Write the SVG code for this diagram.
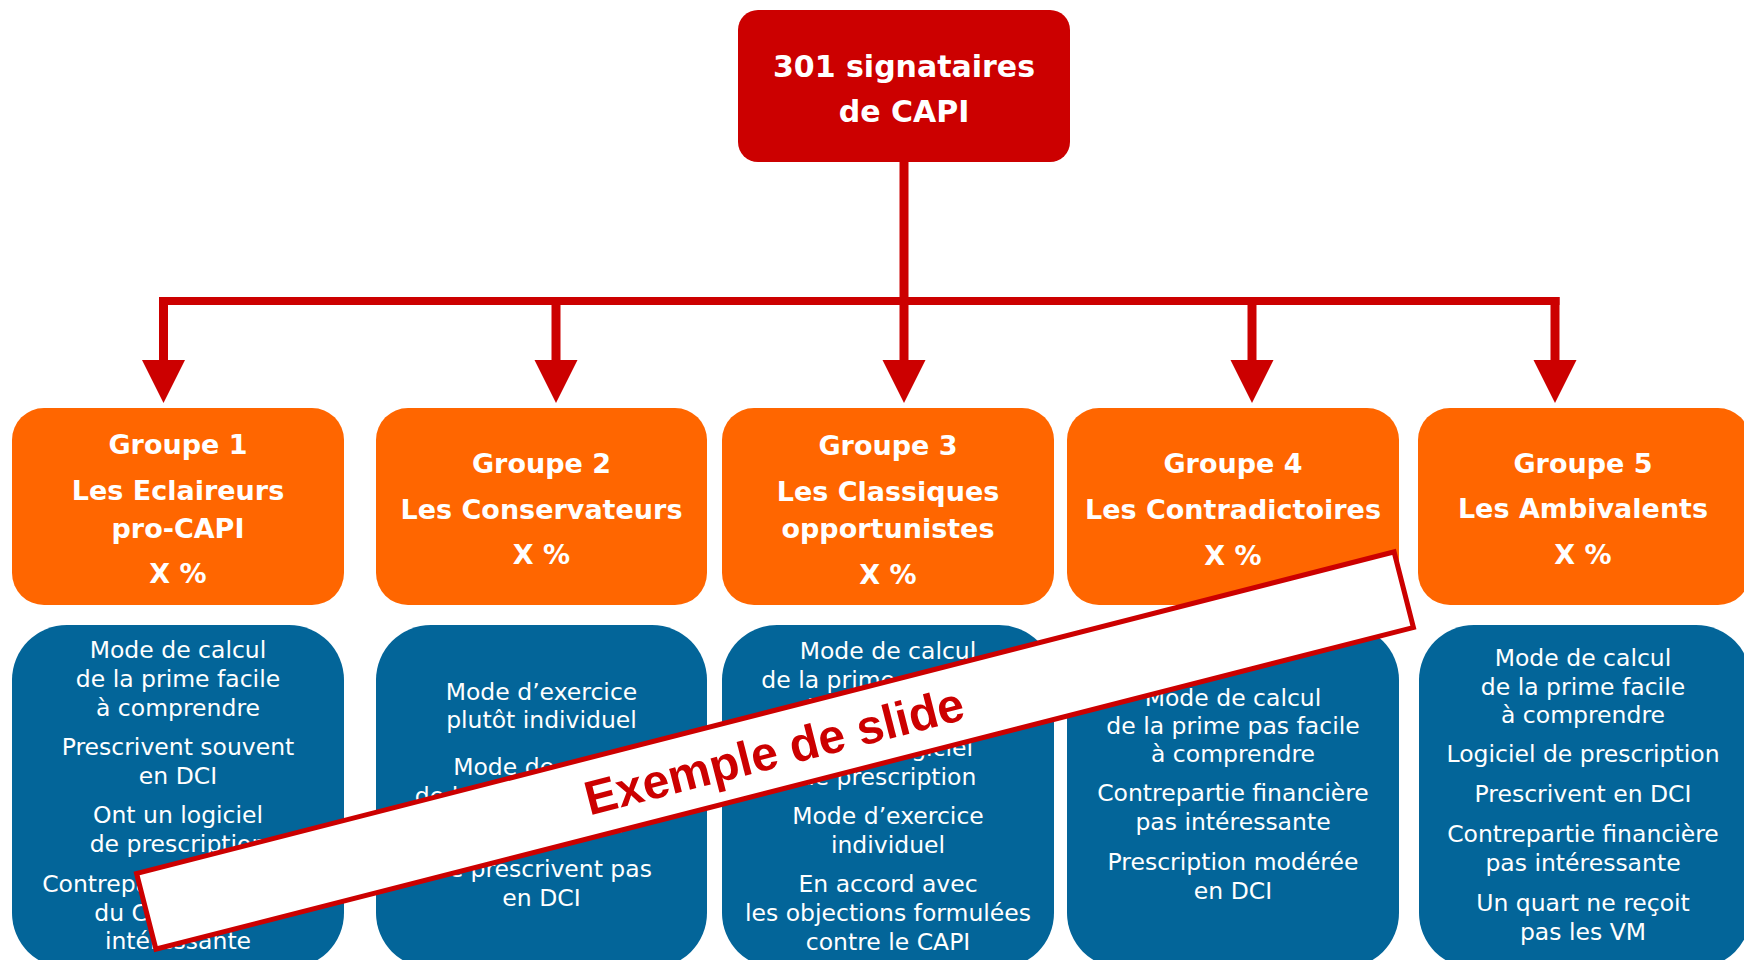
<svg xmlns="http://www.w3.org/2000/svg" width="1744" height="960" viewBox="0 0 1744 960">
<defs>
<style>
.root{fill:#CC0000}
.grp{fill:#FF6600}
.det{fill:#036599}
.tt{font-family:"DejaVu Sans","Liberation Sans",sans-serif;font-weight:bold;font-size:30px;fill:#fff;text-anchor:middle}
.gt{font-family:"DejaVu Sans","Liberation Sans",sans-serif;font-weight:bold;font-size:27px;fill:#fff;text-anchor:middle}
.dt{font-family:"DejaVu Sans","Liberation Sans",sans-serif;font-size:23.5px;fill:#fff;text-anchor:middle}
.ln{stroke:#CC0000;stroke-width:9;fill:none}
.bt{font-family:"Liberation Sans",Arial,sans-serif;font-weight:bold;font-size:48px;fill:#CC0000;text-anchor:middle}
</style>
<marker id="ah" markerUnits="userSpaceOnUse" viewBox="0 -22 43 44" markerWidth="43" markerHeight="44" refX="0" refY="0" orient="auto">
<path d="M0,-21.5 L43,0 L0,21.5 Z" fill="#CC0000"/>
</marker>
</defs>
<rect width="1744" height="960" fill="#fff"/>

<g id="connectors">
<path class="ln" d="M904,160 V360" marker-end="url(#ah)"/>
<path class="ln" style="stroke-width:8" d="M159,301 H1559.5"/>
<path class="ln" d="M163.5,297 V360" marker-end="url(#ah)"/>
<path class="ln" d="M556,297 V360" marker-end="url(#ah)"/>
<path class="ln" d="M1252,297 V360" marker-end="url(#ah)"/>
<path class="ln" d="M1555,297 V360" marker-end="url(#ah)"/>
</g>

<g id="root">
<rect class="root" x="738" y="10" width="332" height="152" rx="20"/>
<text class="tt" x="904" y="77">301 signataires</text>
<text class="tt" x="904" y="122">de CAPI</text>
</g>

<g id="groupe1">
<rect class="grp" x="12" y="408" width="332" height="197" rx="32"/>
<text class="gt" x="178" y="454">Groupe 1</text>
<text class="gt" x="178" y="500">Les Eclaireurs</text>
<text class="gt" x="178" y="537.5">pro-CAPI</text>
<text class="gt" x="178" y="583">X %</text>
</g>
<g id="groupe2">
<rect class="grp" x="376" y="408" width="331" height="197" rx="32"/>
<text class="gt" x="541.5" y="473">Groupe 2</text>
<text class="gt" x="541.5" y="518.5">Les Conservateurs</text>
<text class="gt" x="541.5" y="564">X %</text>
</g>
<g id="groupe3">
<rect class="grp" x="722" y="408" width="332" height="197" rx="32"/>
<text class="gt" x="888" y="455">Groupe 3</text>
<text class="gt" x="888" y="500.5">Les Classiques</text>
<text class="gt" x="888" y="537.5">opportunistes</text>
<text class="gt" x="888" y="584">X %</text>
</g>
<g id="groupe4">
<rect class="grp" x="1067" y="408" width="332" height="197" rx="32"/>
<text class="gt" x="1233" y="473">Groupe 4</text>
<text class="gt" x="1233" y="518.5">Les Contradictoires</text>
<text class="gt" x="1233" y="564.5">X %</text>
</g>
<g id="groupe5">
<rect class="grp" x="1418" y="408" width="332" height="197" rx="32"/>
<text class="gt" x="1583" y="473">Groupe 5</text>
<text class="gt" x="1583" y="518">Les Ambivalents</text>
<text class="gt" x="1583" y="564">X %</text>
</g>

<g id="details1">
<rect class="det" x="12" y="625" width="332" height="343" rx="55"/>
<text class="dt" x="178" y="658">Mode de calcul</text>
<text class="dt" x="178" y="687">de la prime facile</text>
<text class="dt" x="178" y="716">à comprendre</text>
<text class="dt" x="178" y="755">Prescrivent souvent</text>
<text class="dt" x="178" y="784">en DCI</text>
<text class="dt" x="178" y="823">Ont un logiciel</text>
<text class="dt" x="178" y="852">de prescription</text>
<text class="dt" x="178" y="892">Contrepartie financière</text>
<text class="dt" x="178" y="921">du CAPI plutôt</text>
<text class="dt" x="178" y="949">intéressante</text>
</g>
<g id="details2">
<rect class="det" x="376" y="625" width="331" height="343" rx="55"/>
<text class="dt" x="541.5" y="700">Mode d’exercice</text>
<text class="dt" x="541.5" y="728">plutôt individuel</text>
<text class="dt" x="541.5" y="775">Mode de calcul</text>
<text class="dt" x="541.5" y="804">de la prime pas facile</text>
<text class="dt" x="541.5" y="833">à comprendre</text>
<text class="dt" x="541.5" y="877">Ne prescrivent pas</text>
<text class="dt" x="541.5" y="906">en DCI</text>
</g>
<g id="details3">
<rect class="det" x="722" y="625" width="332" height="343" rx="55"/>
<text class="dt" x="888" y="659">Mode de calcul</text>
<text class="dt" x="888" y="688">de la prime pas facile</text>
<text class="dt" x="888" y="717">à comprendre</text>
<text class="dt" x="888" y="756">Ont un logiciel</text>
<text class="dt" x="888" y="785">de prescription</text>
<text class="dt" x="888" y="824">Mode d’exercice</text>
<text class="dt" x="888" y="853">individuel</text>
<text class="dt" x="888" y="892">En accord avec</text>
<text class="dt" x="888" y="921">les objections formulées</text>
<text class="dt" x="888" y="950">contre le CAPI</text>
</g>
<g id="details4">
<rect class="det" x="1067" y="625" width="332" height="343" rx="55"/>
<text class="dt" x="1233" y="706">Mode de calcul</text>
<text class="dt" x="1233" y="734">de la prime pas facile</text>
<text class="dt" x="1233" y="762">à comprendre</text>
<text class="dt" x="1233" y="801">Contrepartie financière</text>
<text class="dt" x="1233" y="830">pas intéressante</text>
<text class="dt" x="1233" y="870">Prescription modérée</text>
<text class="dt" x="1233" y="899">en DCI</text>
</g>
<g id="details5">
<rect class="det" x="1419" y="625" width="332" height="343" rx="55"/>
<text class="dt" x="1583" y="666">Mode de calcul</text>
<text class="dt" x="1583" y="695">de la prime facile</text>
<text class="dt" x="1583" y="723">à comprendre</text>
<text class="dt" x="1583" y="762">Logiciel de prescription</text>
<text class="dt" x="1583" y="802">Prescrivent en DCI</text>
<text class="dt" x="1583" y="842">Contrepartie financière</text>
<text class="dt" x="1583" y="871">pas intéressante</text>
<text class="dt" x="1583" y="911">Un quart ne reçoit</text>
<text class="dt" x="1583" y="940">pas les VM</text>
</g>

<g id="banner" transform="translate(775,750.5) rotate(-14.35)">
<rect x="-649" y="-39" width="1298" height="78" fill="#fff" stroke="#CC0000" stroke-width="5"/>
<text class="bt" x="-1" y="17">Exemple de slide</text>
</g>
</svg>
